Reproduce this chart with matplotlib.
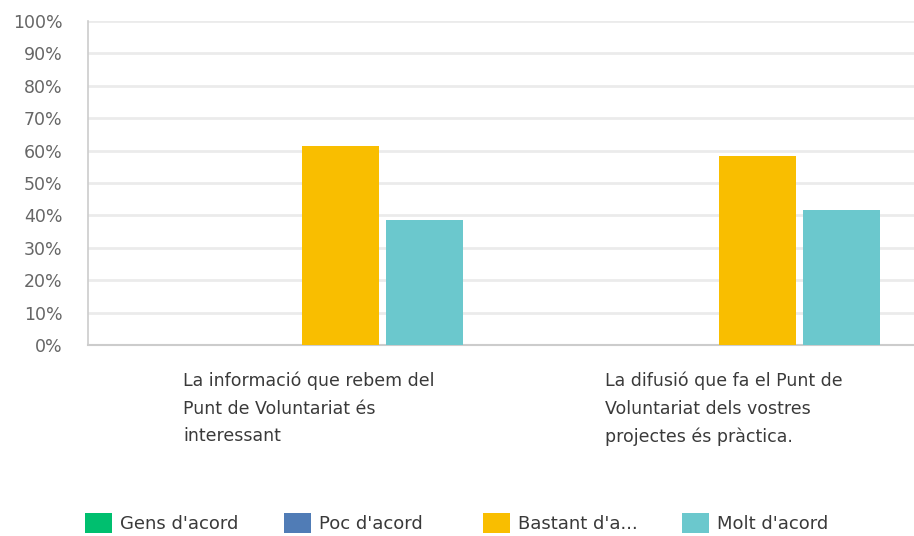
import numpy as np
import matplotlib.pyplot as plt
from matplotlib.patches import Patch
from matplotlib.transforms import blended_transform_factory

# Survey answers, share of respondents per statement (%)
categories = [
    "La informació que rebem del\nPunt de Voluntariat és\ninteressant",
    "La difusió que fa el Punt de\nVoluntariat dels vostres\nprojectes és pràctica.",
]
series_names = ["Gens d'acord", "Poc d'acord", "Bastant d'a...", "Molt d'acord"]
gens = [0.0, 0.0]
poc = [0.0, 0.0]
bastant = [61.54, 58.33]
molt = [38.46, 41.67]
yticks = [0, 10, 20, 30, 40, 50, 60, 70, 80, 90, 100]

colors = ["#00bf6f", "#507cb6", "#f9be00", "#6bc8cd"]
plt.rcParams['font.family'] = ['DejaVu Sans']

fig = plt.figure(figsize=(9.14, 5.36), dpi=100)
W, H = 914, 536
# plot area in pixels: left 88, top 21, bottom 345 (runs past the right edge)
ax = fig.add_axes([88 / W, 1 - 345 / H, 834 / W, 324 / H])

x = np.arange(len(categories))
slot = 84 / 417
width = 77 / 417
values = [gens, poc, bastant, molt]
for i, (name, vals) in enumerate(zip(series_names, values)):
    ax.bar(x + (i - 1.5) * slot, vals, width, color=colors[i], label=name, zorder=3)

shift = 2 / 417
ax.set_xlim(-0.5 - shift, 1.5 - shift)
ax.set_ylim(0, 100)
ax.set_yticks(yticks)
ax.set_yticklabels([f"{v}%" for v in yticks], fontsize=12.5, color="#666666")
ax.set_xticks([])
ax.tick_params(axis='y', length=0, pad=18.5)

ax.grid(axis='y', color="#ebebeb", linewidth=2, zorder=0)
for side in ['top', 'right']:
    ax.spines[side].set_visible(False)
ax.spines['left'].set_color("#cccccc")
ax.spines['bottom'].set_color("#cccccc")
ax.spines['left'].set_linewidth(1.2)
ax.spines['bottom'].set_linewidth(1.5)

# Category labels, left-aligned blocks under each group
trans = blended_transform_factory(ax.transData, fig.transFigure)
offsets = [-0.277, -0.265]
for xi, (label, off) in enumerate(zip(categories, offsets)):
    ax.text(xi + off, 1 - 372 / H, label, transform=trans, ha='left', va='top',
            fontsize=12.5, color="#3a3a3a", linespacing=1.65)

# Legend entries on a fixed 199 px pitch
for i, (name, c) in enumerate(zip(series_names, colors)):
    fig.legend([Patch(facecolor=c, edgecolor='none')], [name], loc='center left',
               bbox_to_anchor=((85 + 199 * i) / W, 1 - 523 / H), frameon=False,
               fontsize=13, handlelength=1.5, handleheight=1.33, handletextpad=0.45,
               borderpad=0, borderaxespad=0, labelcolor="#3a3a3a")

fig.savefig("out.png", dpi=100)
